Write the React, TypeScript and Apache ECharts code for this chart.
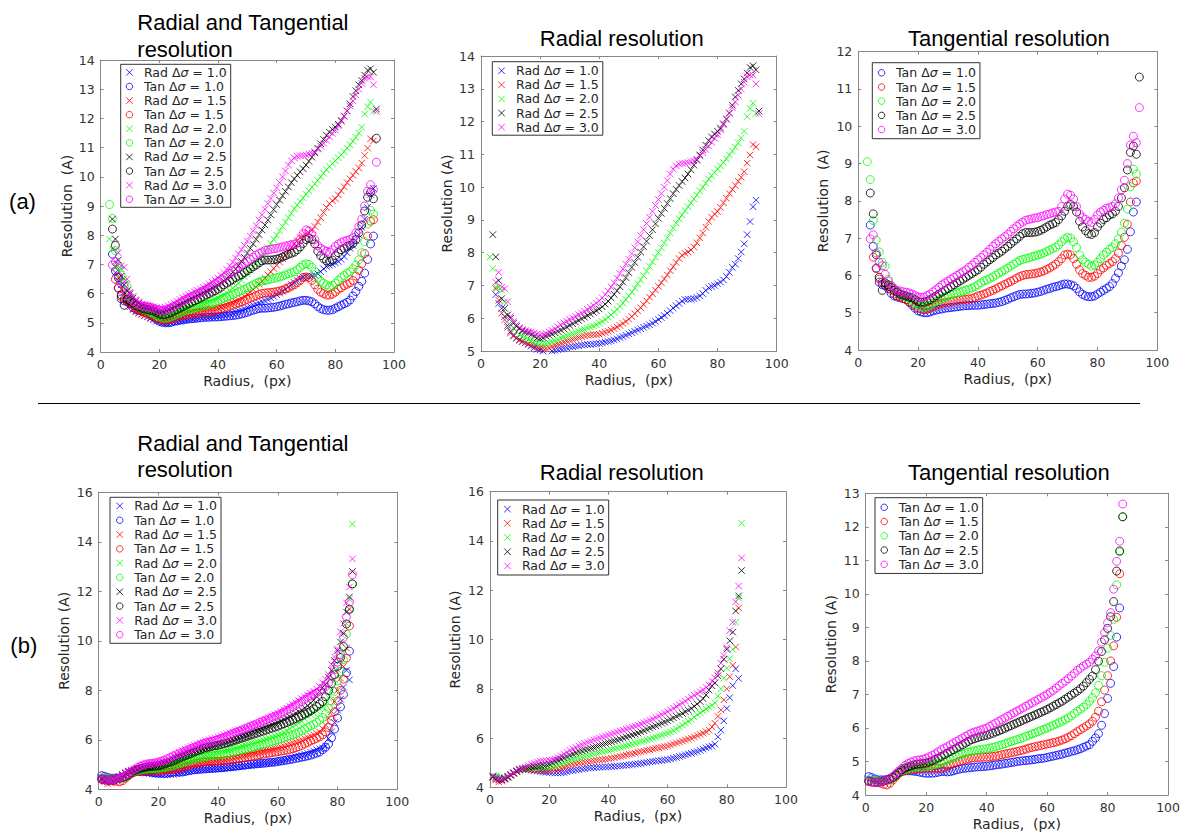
import React, { useEffect, useRef } from 'react';
import * as echarts from 'echarts';

// ---------- radii (px) ----------
const RADIUS_A = [
  3, 4, 5, 6, 7, 8, 9, 10, 11, 12, 13, 14, 15, 16, 17, 18, 19, 20, 21, 22,
  23, 24, 25, 26, 27, 28, 29, 30, 31, 32, 33, 34, 35, 36, 37, 38, 39, 40, 41, 42,
  43, 44, 45, 46, 47, 48, 49, 50, 51, 52, 53, 54, 55, 56, 57, 58, 59, 60, 61, 62,
  63, 64, 65, 66, 67, 68, 69, 70, 71, 72, 73, 74, 75, 76, 77, 78, 79, 80, 81, 82,
  83, 84, 85, 86, 87, 88, 89, 90, 91, 92, 93, 94,
];
const RADIUS_B = [
  1, 2, 3, 4, 5, 6, 7, 8, 9, 10, 11, 12, 13, 14, 15, 16, 17, 18, 19, 20,
  21, 22, 23, 24, 25, 26, 27, 28, 29, 30, 31, 32, 33, 34, 35, 36, 37, 38, 39, 40,
  41, 42, 43, 44, 45, 46, 47, 48, 49, 50, 51, 52, 53, 54, 55, 56, 57, 58, 59, 60,
  61, 62, 63, 64, 65, 66, 67, 68, 69, 70, 71, 72, 73, 74, 75, 76, 77, 78, 79, 80,
  81, 82, 83, 84, 85,
];

// ---------- (a) radial resolution (A), one value per radius in RADIUS_A ----------
const RAD_A_10 = [
  null, null, 6.72, 6.45, 6.3, 6.05, 5.78, 5.6, 5.48, 5.4,
  5.35, 5.3, 5.25, 5.2, 5.15, 5.1, 5.05, 5.03, 5.0, 4.98,
  4.98, 5.0, 5.02, 5.04, 5.06, 5.08, 5.1, 5.12, 5.13, 5.15,
  5.16, 5.18, 5.19, 5.2, 5.2, 5.21, 5.22, 5.23, 5.25, 5.27,
  5.29, 5.31, 5.34, 5.37, 5.41, 5.44, 5.48, 5.52, 5.56, 5.6,
  5.64, 5.68, 5.72, 5.76, 5.8, 5.85, 5.9, 5.96, 6.02, 6.08,
  6.15, 6.23, 6.31, 6.38, 6.45, 6.52, 6.57, 6.58, 6.58, 6.6,
  6.63, 6.68, 6.75, 6.85, 6.93, 6.97, 7.0, 7.05, 7.1, 7.17,
  7.27, 7.4, 7.55, 7.65, 7.82, 8.02, 8.27, 8.55, 8.95, 9.4,
  9.6, null,
];
const RAD_A_15 = [
  null, null, 6.9, 6.55, 6.15, 5.95, 5.72, 5.55, 5.45, 5.38,
  5.32, 5.28, 5.25, 5.22, 5.18, 5.15, 5.12, 5.1, 5.08, 5.08,
  5.1, 5.14, 5.18, 5.21, 5.24, 5.27, 5.3, 5.32, 5.35, 5.38,
  5.41, 5.44, 5.46, 5.48, 5.49, 5.5, 5.5, 5.51, 5.54, 5.57,
  5.6, 5.64, 5.68, 5.73, 5.78, 5.84, 5.9, 5.97, 6.05, 6.14,
  6.23, 6.32, 6.42, 6.53, 6.64, 6.75, 6.86, 6.97, 7.08, 7.2,
  7.32, 7.45, 7.57, 7.7, 7.82, 7.92, 7.98, 8.02, 8.08, 8.17,
  8.3, 8.45, 8.6, 8.78, 8.95, 9.08, 9.18, 9.25, 9.38, 9.52,
  9.66, 9.8, 9.93, 10.05, 10.18, 10.3, 10.47, 10.73, 10.98, 11.3,
  11.23, null,
];
const RAD_A_20 = [
  7.87, 7.52, 6.95, 6.95, 6.85, 6.5, 6.1, 5.8, 5.7, 5.6,
  5.5, 5.45, 5.4, 5.35, 5.3, 5.27, 5.25, 5.22, 5.22, 5.23,
  5.25, 5.28, 5.32, 5.35, 5.39, 5.43, 5.47, 5.5, 5.53, 5.56,
  5.6, 5.63, 5.66, 5.7, 5.73, 5.76, 5.8, 5.85, 5.9, 5.96,
  6.03, 6.1, 6.18, 6.27, 6.36, 6.46, 6.57, 6.68, 6.8, 6.92,
  7.05, 7.17, 7.3, 7.44, 7.58, 7.72, 7.86, 8.0, 8.15, 8.3,
  8.45, 8.6, 8.75, 8.9, 9.03, 9.15, 9.28, 9.4, 9.52, 9.64,
  9.76, 9.88, 10.0, 10.12, 10.24, 10.35, 10.45, 10.55, 10.65, 10.75,
  10.86, 10.98, 11.1, 11.22, 11.35, 11.5, 11.7, 12.15, 12.4, 12.56,
  12.25, null,
];
const RAD_A_25 = [
  null, 8.55, 7.87, 7.15, 6.6, 6.3, 6.1, 6.0, 5.85, 5.75,
  5.68, 5.62, 5.58, 5.55, 5.5, 5.45, 5.4, 5.38, 5.4, 5.45,
  5.48, 5.52, 5.56, 5.6, 5.64, 5.68, 5.73, 5.78, 5.83, 5.88,
  5.93, 5.98, 6.03, 6.08, 6.13, 6.18, 6.23, 6.28, 6.35, 6.43,
  6.52, 6.62, 6.73, 6.84, 6.96, 7.1, 7.24, 7.39, 7.55, 7.7,
  7.86, 8.02, 8.18, 8.35, 8.52, 8.7, 8.88, 9.05, 9.2, 9.35,
  9.5, 9.65, 9.8, 9.93, 10.05, 10.17, 10.28, 10.4, 10.53, 10.67,
  10.82, 10.98, 11.13, 11.28, 11.42, 11.53, 11.62, 11.7, 11.8, 11.93,
  12.08, 12.26, 12.5, 12.75, 12.95, 13.15, 13.3, 13.48, 13.65, 13.7,
  13.58, 12.32,
];
const RAD_A_30 = [
  null, null, 7.1, 7.4, 6.95, 6.9, 6.5, 6.05, 5.9, 5.8,
  5.72, 5.65, 5.62, 5.6, 5.58, 5.55, 5.52, 5.5, 5.5, 5.53,
  5.58, 5.63, 5.68, 5.74, 5.8, 5.86, 5.91, 5.96, 6.01, 6.06,
  6.11, 6.16, 6.21, 6.27, 6.33, 6.39, 6.46, 6.53, 6.62, 6.72,
  6.83, 6.95, 7.08, 7.22, 7.36, 7.5, 7.65, 7.8, 7.97, 8.15,
  8.33, 8.52, 8.7, 8.89, 9.08, 9.26, 9.44, 9.62, 9.8, 10.0,
  10.2, 10.4, 10.55, 10.65, 10.7, 10.72, 10.73, 10.75, 10.78, 10.8,
  10.85, 10.95, 11.05, 11.15, 11.25, 11.37, 11.49, 11.6, 11.75, 11.9,
  12.07, 12.25, 12.42, 12.6, 12.8, 13.0, 13.2, 13.37, 13.42, 13.42,
  13.15, 12.24,
];

// ---------- (a) tangential resolution (A) ----------
const TAN_A_10 = [
  null, 7.35, 6.78, 6.2, 5.82, 5.75, 5.72, 5.65, 5.52, 5.45,
  5.42, 5.4, 5.38, 5.35, 5.28, 5.2, 5.12, 5.05, 5.02, 5.0,
  5.0, 5.02, 5.05, 5.07, 5.09, 5.1, 5.12, 5.13, 5.14, 5.15,
  5.16, 5.17, 5.18, 5.19, 5.19, 5.2, 5.2, 5.2, 5.21, 5.22,
  5.23, 5.24, 5.25, 5.26, 5.28, 5.3, 5.33, 5.36, 5.4, 5.43,
  5.46, 5.49, 5.5, 5.5, 5.51, 5.52, 5.53, 5.55, 5.57, 5.6,
  5.63, 5.65, 5.68, 5.7, 5.72, 5.75, 5.77, 5.77, 5.75, 5.72,
  5.65, 5.56, 5.49, 5.45, 5.43, 5.43, 5.45, 5.5, 5.55, 5.6,
  5.65, 5.7, 5.78, 5.92, 6.07, 6.25, 6.42, 6.7, 7.17, 7.7,
  7.97, null,
];
const TAN_A_15 = [
  null, null, 6.49, 6.18, 5.9, 5.82, 5.75, 5.7, 5.6, 5.5,
  5.45, 5.42, 5.38, 5.35, 5.3, 5.25, 5.18, 5.12, 5.1, 5.08,
  5.1, 5.12, 5.16, 5.2, 5.23, 5.25, 5.27, 5.28, 5.3, 5.32,
  5.33, 5.34, 5.35, 5.36, 5.37, 5.38, 5.41, 5.45, 5.47, 5.5,
  5.53, 5.57, 5.6, 5.64, 5.68, 5.72, 5.76, 5.8, 5.84, 5.88,
  5.93, 5.97, 6.0, 6.02, 6.03, 6.04, 6.05, 6.07, 6.09, 6.12,
  6.16, 6.2, 6.25, 6.3, 6.37, 6.45, 6.55, 6.57, 6.55, 6.45,
  6.3, 6.15, 6.05, 6.0, 5.95, 5.95, 5.98, 6.05, 6.15, 6.2,
  6.27, 6.32, 6.37, 6.45, 6.6, 6.8, 7.02, 7.37, 7.97, 8.48,
  8.53, null,
];
const TAN_A_20 = [
  9.05, 8.57, 7.47, 6.95, 6.63, 6.35, 6.25, 5.9, 5.72, 5.62,
  5.55, 5.5, 5.45, 5.42, 5.38, 5.32, 5.25, 5.2, 5.16, 5.15,
  5.17, 5.2, 5.25, 5.3, 5.34, 5.38, 5.42, 5.45, 5.48, 5.5,
  5.53, 5.55, 5.58, 5.61, 5.63, 5.66, 5.7, 5.75, 5.8, 5.85,
  5.88, 5.92, 5.96, 6.01, 6.06, 6.1, 6.15, 6.2, 6.25, 6.3,
  6.35, 6.4, 6.43, 6.45, 6.47, 6.5, 6.52, 6.55, 6.57, 6.6,
  6.64, 6.68, 6.72, 6.75, 6.82, 6.9, 6.98, 7.02, 7.0, 6.9,
  6.75, 6.55, 6.42, 6.35, 6.3, 6.25, 6.28, 6.35, 6.45, 6.55,
  6.62, 6.7, 6.75, 6.85, 6.98, 7.16, 7.4, 7.78, 8.38, 8.85,
  8.72, null,
];
const TAN_A_25 = [
  null, 8.21, 7.65, 6.55, 5.95, 5.6, 5.8, 5.75, 5.68, 5.6,
  5.55, 5.5, 5.47, 5.45, 5.42, 5.4, 5.35, 5.3, 5.28, 5.28,
  5.31, 5.35, 5.4, 5.45, 5.5, 5.55, 5.6, 5.65, 5.7, 5.75,
  5.8, 5.85, 5.9, 5.95, 6.0, 6.05, 6.1, 6.15, 6.22, 6.3,
  6.36, 6.42, 6.48, 6.55, 6.6, 6.65, 6.72, 6.78, 6.85, 6.92,
  6.98, 7.05, 7.12, 7.15, 7.15, 7.15, 7.16, 7.18, 7.21, 7.25,
  7.3, 7.35, 7.38, 7.42, 7.5, 7.6, 7.72, 7.85, 7.9, 7.85,
  7.7, 7.45, 7.3, 7.2, 7.12, 7.1, 7.15, 7.3, 7.4, 7.5,
  7.55, 7.62, 7.65, 7.72, 7.85, 8.08, 8.35, 8.83, 9.3, 9.47,
  9.25, 11.32,
];
const TAN_A_30 = [
  null, 6.98, 7.09, 6.6, 6.35, 6.26, 6.03, 5.85, 5.73, 5.65,
  5.6, 5.58, 5.56, 5.55, 5.53, 5.5, 5.46, 5.42, 5.41, 5.42,
  5.46, 5.5, 5.56, 5.62, 5.68, 5.75, 5.8, 5.85, 5.9, 5.95,
  6.0, 6.05, 6.1, 6.15, 6.22, 6.28, 6.35, 6.42, 6.48, 6.55,
  6.62, 6.7, 6.78, 6.85, 6.92, 6.98, 7.04, 7.1, 7.18, 7.25,
  7.32, 7.38, 7.43, 7.48, 7.5, 7.52, 7.54, 7.55, 7.58, 7.6,
  7.63, 7.65, 7.68, 7.7, 7.72, 7.85, 8.05, 8.18, 8.15, 8.05,
  7.85, 7.65, 7.55, 7.5, 7.45, 7.42, 7.5, 7.62, 7.7, 7.75,
  7.8, 7.82, 7.85, 7.92, 8.08, 8.3, 8.55, 9.0, 9.5, 9.73,
  9.56, 10.5,
];

// ---------- (b) radial resolution (A), one value per radius in RADIUS_B ----------
const RAD_B_10 = [
  4.45, 4.42, 4.35, 4.3, 4.35, 4.42, 4.5, 4.58, 4.65, 4.7,
  4.72, 4.72, 4.71, 4.7, 4.68, 4.66, 4.64, 4.62, 4.61, 4.6,
  4.59, 4.58, 4.58, 4.59, 4.6, 4.63, 4.66, 4.68, 4.7, 4.72,
  4.74, 4.76, 4.78, 4.79, 4.8, 4.81, 4.82, 4.82, 4.83, 4.83,
  4.84, 4.85, 4.86, 4.87, 4.88, 4.9, 4.91, 4.92, 4.94, 4.95,
  4.97, 4.99, 5.01, 5.03, 5.05, 5.06, 5.08, 5.09, 5.11, 5.12,
  5.15, 5.18, 5.21, 5.25, 5.28, 5.32, 5.35, 5.38, 5.42, 5.45,
  5.5, 5.55, 5.6, 5.64, 5.67, 5.75, 6.05, 6.32, 6.7, 7.2,
  7.64, 8.13, 8.81, 8.42, null,
];
const RAD_B_15 = [
  4.4, 4.3, 4.22, 4.25, 4.32, 4.4, 4.48, 4.56, 4.64, 4.7,
  4.72, 4.72, 4.72, 4.71, 4.7, 4.69, 4.68, 4.68, 4.68, 4.68,
  4.7, 4.72, 4.75, 4.78, 4.82, 4.86, 4.89, 4.92, 4.95, 4.98,
  5.0, 5.02, 5.04, 5.06, 5.08, 5.1, 5.11, 5.12, 5.14, 5.15,
  5.18, 5.2, 5.23, 5.25, 5.28, 5.31, 5.34, 5.36, 5.39, 5.42,
  5.45, 5.47, 5.5, 5.52, 5.55, 5.58, 5.6, 5.63, 5.65, 5.68,
  5.72, 5.76, 5.8, 5.84, 5.88, 5.92, 5.96, 6.0, 6.05, 6.1,
  6.15, 6.2, 6.26, 6.32, 6.45, 6.6, 6.88, 7.14, 7.55, 8.0,
  8.49, 8.96, 9.7, 11.28, null,
];
const RAD_B_20 = [
  4.48, 4.45, 4.4, 4.38, 4.4, 4.45, 4.52, 4.6, 4.66, 4.72,
  4.74, 4.75, 4.76, 4.77, 4.78, 4.79, 4.8, 4.8, 4.81, 4.82,
  4.85, 4.88, 4.92, 4.96, 5.0, 5.04, 5.08, 5.12, 5.16, 5.2,
  5.23, 5.26, 5.29, 5.32, 5.35, 5.38, 5.41, 5.44, 5.47, 5.5,
  5.53, 5.56, 5.59, 5.62, 5.65, 5.68, 5.72, 5.75, 5.79, 5.82,
  5.86, 5.89, 5.93, 5.96, 6.0, 6.04, 6.08, 6.12, 6.16, 6.2,
  6.25, 6.3, 6.37, 6.45, 6.52, 6.6, 6.68, 6.75, 6.85, 6.95,
  7.02, 7.1, 7.18, 7.25, 7.32, 7.43, 7.7, 8.0, 8.43, 8.84,
  9.22, 9.6, 10.7, 11.68, 14.72,
];
const RAD_B_25 = [
  4.42, 4.35, 4.3, 4.3, 4.35, 4.42, 4.5, 4.58, 4.65, 4.72,
  4.75, 4.78, 4.8, 4.83, 4.85, 4.87, 4.88, 4.9, 4.92, 4.95,
  5.0, 5.05, 5.1, 5.15, 5.2, 5.25, 5.3, 5.35, 5.4, 5.45,
  5.48, 5.52, 5.55, 5.58, 5.62, 5.66, 5.7, 5.74, 5.78, 5.82,
  5.85, 5.89, 5.92, 5.96, 6.0, 6.04, 6.08, 6.12, 6.16, 6.2,
  6.25, 6.3, 6.35, 6.4, 6.45, 6.5, 6.55, 6.6, 6.65, 6.7,
  6.76, 6.82, 6.88, 6.94, 7.0, 7.07, 7.13, 7.2, 7.29, 7.38,
  7.48, 7.6, 7.75, 7.95, 8.12, 8.24, 8.53, 8.81, 9.2, 9.6,
  9.95, 10.3, 11.16, 11.77, 12.8,
];
const RAD_B_30 = [
  4.45, 4.4, 4.32, 4.32, 4.38, 4.45, 4.52, 4.6, 4.68, 4.74,
  4.78, 4.82, 4.88, 4.94, 4.98, 5.03, 5.05, 5.07, 5.08, 5.1,
  5.12, 5.15, 5.2, 5.28, 5.35, 5.42, 5.5, 5.56, 5.62, 5.68,
  5.73, 5.78, 5.83, 5.87, 5.92, 5.96, 6.0, 6.04, 6.08, 6.12,
  6.16, 6.2, 6.24, 6.28, 6.32, 6.36, 6.4, 6.44, 6.48, 6.52,
  6.57, 6.62, 6.67, 6.72, 6.77, 6.83, 6.89, 6.95, 7.01, 7.07,
  7.14, 7.21, 7.28, 7.35, 7.42, 7.5, 7.58, 7.66, 7.74, 7.8,
  7.88, 7.96, 8.05, 8.15, 8.3, 8.45, 8.64, 9.04, 9.35, 9.67,
  10.36, 10.7, 11.53, 12.17, 13.31,
];

// ---------- (b) tangential resolution (A) ----------
const TAN_B_10 = [
  4.55, 4.52, 4.48, 4.45, 4.45, 4.45, 4.46, 4.48, 4.52, 4.58,
  4.65, 4.7, 4.72, 4.72, 4.72, 4.71, 4.7, 4.68, 4.66, 4.65,
  4.65, 4.65, 4.66, 4.68, 4.7, 4.7, 4.69, 4.7, 4.72, 4.75,
  4.77, 4.79, 4.8, 4.81, 4.82, 4.83, 4.84, 4.84, 4.85, 4.86,
  4.87, 4.88, 4.9, 4.91, 4.92, 4.94, 4.95, 4.97, 4.98, 5.0,
  5.01, 5.02, 5.03, 5.04, 5.05, 5.06, 5.08, 5.09, 5.1, 5.12,
  5.14, 5.16, 5.18, 5.2, 5.22, 5.25, 5.27, 5.3, 5.32, 5.35,
  5.38, 5.42, 5.46, 5.5, 5.6, 5.7, 5.83, 6.08, 6.43, 6.88,
  7.33, 7.83, 8.71, 9.58, null,
];
const TAN_B_15 = [
  4.4, 4.38, 4.38, 4.38, 4.35, 4.32, 4.3, 4.35, 4.45, 4.55,
  4.65, 4.7, 4.72, 4.74, 4.75, 4.76, 4.77, 4.78, 4.79, 4.8,
  4.8, 4.8, 4.8, 4.79, 4.79, 4.82, 4.86, 4.9, 4.93, 4.96,
  5.0, 5.03, 5.06, 5.08, 5.1, 5.11, 5.12, 5.12, 5.13, 5.13,
  5.14, 5.15, 5.16, 5.18, 5.2, 5.22, 5.24, 5.26, 5.28, 5.3,
  5.32, 5.34, 5.37, 5.4, 5.42, 5.44, 5.46, 5.48, 5.5, 5.52,
  5.54, 5.56, 5.58, 5.61, 5.64, 5.68, 5.72, 5.77, 5.83, 5.89,
  5.95, 6.0, 6.06, 6.12, 6.2, 6.32, 6.5, 6.78, 7.13, 7.56,
  8.0, 8.45, 9.3, 10.6, null,
];
const TAN_B_20 = [
  4.45, 4.45, 4.44, 4.42, 4.42, 4.42, 4.43, 4.45, 4.5, 4.58,
  4.66, 4.72, 4.76, 4.79, 4.81, 4.83, 4.84, 4.84, 4.84, 4.85,
  4.87, 4.89, 4.91, 4.93, 4.96, 5.0, 5.04, 5.08, 5.12, 5.15,
  5.19, 5.22, 5.25, 5.28, 5.3, 5.32, 5.34, 5.36, 5.37, 5.38,
  5.4, 5.42, 5.44, 5.47, 5.5, 5.53, 5.56, 5.59, 5.62, 5.65,
  5.68, 5.71, 5.75, 5.78, 5.82, 5.85, 5.89, 5.93, 5.96, 6.0,
  6.04, 6.08, 6.12, 6.16, 6.2, 6.25, 6.3, 6.36, 6.43, 6.5,
  6.56, 6.62, 6.7, 6.8, 6.9, 7.05, 7.27, 7.56, 7.96, 8.38,
  8.76, 9.24, 10.27, 11.25, 12.3,
];
const TAN_B_25 = [
  4.42, 4.4, 4.38, 4.38, 4.4, 4.42, 4.45, 4.48, 4.52, 4.6,
  4.68, 4.75, 4.8, 4.84, 4.87, 4.9, 4.92, 4.93, 4.94, 4.95,
  4.98, 5.02, 5.06, 5.1, 5.15, 5.2, 5.25, 5.3, 5.35, 5.4,
  5.45, 5.5, 5.55, 5.6, 5.65, 5.68, 5.71, 5.74, 5.76, 5.78,
  5.81, 5.84, 5.88, 5.91, 5.95, 5.99, 6.03, 6.07, 6.11, 6.15,
  6.19, 6.23, 6.27, 6.31, 6.35, 6.39, 6.43, 6.47, 6.51, 6.55,
  6.6, 6.65, 6.7, 6.75, 6.8, 6.86, 6.92, 6.98, 7.04, 7.1,
  7.17, 7.25, 7.35, 7.45, 7.55, 7.74, 7.99, 8.28, 8.63, 8.97,
  9.32, 9.77, 10.68, 11.28, 12.3,
];
const TAN_B_30 = [
  4.42, 4.4, 4.38, 4.38, 4.4, 4.42, 4.45, 4.5, 4.56, 4.64,
  4.72, 4.8, 4.88, 4.94, 4.98, 5.02, 5.04, 5.05, 5.07, 5.1,
  5.14, 5.18, 5.23, 5.29, 5.35, 5.4, 5.44, 5.5, 5.55, 5.6,
  5.65, 5.7, 5.75, 5.8, 5.85, 5.88, 5.91, 5.94, 5.97, 6.0,
  6.05, 6.1, 6.15, 6.2, 6.25, 6.3, 6.35, 6.4, 6.45, 6.5,
  6.55, 6.6, 6.65, 6.7, 6.75, 6.8, 6.85, 6.9, 6.95, 7.0,
  7.06, 7.12, 7.19, 7.26, 7.33, 7.4, 7.47, 7.55, 7.63, 7.72,
  7.78, 7.85, 7.9, 7.96, 8.05, 8.15, 8.3, 8.56, 8.84, 9.14,
  9.44, 10.14, 10.97, 11.57, 12.68,
];

const SIGMAS = ['1.0', '1.5', '2.0', '2.5', '3.0'];
const COLORS = ['#0000ff', '#ff0000', '#00ff00', '#000000', '#ff00ff'];
const X_TICKS = [0, 100, 20];

const RAD_A = [RAD_A_10, RAD_A_15, RAD_A_20, RAD_A_25, RAD_A_30];
const TAN_A = [TAN_A_10, TAN_A_15, TAN_A_20, TAN_A_25, TAN_A_30];
const RAD_B = [RAD_B_10, RAD_B_15, RAD_B_20, RAD_B_25, RAD_B_30];
const TAN_B = [TAN_B_10, TAN_B_15, TAN_B_20, TAN_B_25, TAN_B_30];

const X_ICON = 'path://M0,0L10,10M10,0L0,10';
const AXIS_COLOR = '#878787';
const LABEL_COLOR = '#333333';
const SANS = 'DejaVu Sans';
const TITLE_FONT = 'Liberation Sans';
const LEGEND_FONT = 12.5;

type Panel = {
  grid: { left: number; top: number; width: number; height: number };
  y: [number, number, number];
  radii: number[];
  rad: (number | null)[][] | null;
  tan: (number | null)[][] | null;
  yName: string;
  yGap: number;
  legend: { left: number; top: number; padding: number[]; lh: number };
};

const PANELS: Panel[] = [
  {
    grid: { left: 100.7, top: 60, width: 293.3, height: 292 }, y: [4, 14, 1],
    radii: RADIUS_A, rad: RAD_A, tan: TAN_A, yName: 'Resolution  (A)', yGap: 27,
    legend: { left: 120.7, top: 64.3, padding: [1, 4, 1, 5], lh: 14.1 },
  },
  {
    grid: { left: 481, top: 56, width: 295.7, height: 295 }, y: [5, 14, 1],
    radii: RADIUS_A, rad: RAD_A, tan: null, yName: 'Resolution (A)', yGap: 27,
    legend: { left: 492.3, top: 61.7, padding: [2, 4, 1, 5.5], lh: 14.1 },
  },
  {
    grid: { left: 858.3, top: 51.7, width: 299, height: 298.3 }, y: [4, 12, 1],
    radii: RADIUS_A, rad: null, tan: TAN_A, yName: 'Resolution  (A)', yGap: 28,
    legend: { left: 872.3, top: 62.7, padding: [3, 4, 2, 5.5], lh: 14.2 },
  },
  {
    grid: { left: 98.7, top: 492.3, width: 298.5, height: 297 }, y: [4, 16, 2],
    radii: RADIUS_B, rad: RAD_B, tan: TAN_B, yName: 'Resolution (A)', yGap: 28,
    legend: { left: 110, top: 497.3, padding: [1.5, 4, 1.5, 6], lh: 14.3 },
  },
  {
    grid: { left: 490, top: 491.7, width: 296, height: 295.6 }, y: [4, 16, 2],
    radii: RADIUS_B, rad: RAD_B, tan: null, yName: 'Resolution (A)', yGap: 28,
    legend: { left: 497.7, top: 500, padding: [2, 4, 2, 6], lh: 14.2 },
  },
  {
    grid: { left: 865.7, top: 493.3, width: 302.6, height: 301.7 }, y: [4, 13, 1],
    radii: RADIUS_B, rad: null, tan: TAN_B, yName: 'Resolution (A)', yGap: 28,
    legend: { left: 875, top: 497.7, padding: [2.5, 4, 2, 5.5], lh: 14.25 },
  },
];

function toPoints(radii: number[], vals: (number | null)[]) {
  const out: number[][] = [];
  vals.forEach((v, i) => {
    if (v !== null && v !== undefined) out.push([radii[i], v]);
  });
  return out;
}

function axisCommon(show: boolean) {
  return {
    axisLine: { show: true, onZero: false, lineStyle: { color: AXIS_COLOR, width: 1 } },
    axisTick: { show: true, inside: true, length: 3, lineStyle: { color: AXIS_COLOR, width: 1 } },
    axisLabel: {
      show,
      color: LABEL_COLOR,
      fontSize: 12.5,
      fontFamily: SANS,
      margin: 6,
    },
    splitLine: { show: false },
  };
}

function buildOption() {
  const grids: any[] = [];
  const xAxes: any[] = [];
  const yAxes: any[] = [];
  const series: any[] = [];
  const legends: any[] = [];

  PANELS.forEach((p, gi) => {
    grids.push({ ...p.grid, containLabel: false });
    const xBase = { gridIndex: gi, type: 'value', min: X_TICKS[0], max: X_TICKS[1], interval: X_TICKS[2] };
    xAxes.push({
      ...xBase, position: 'bottom', ...axisCommon(true),
      name: 'Radius,  (px)', nameLocation: 'middle', nameGap: 22,
      nameTextStyle: { color: '#262626', fontSize: 14, fontFamily: SANS },
    });
    xAxes.push({ ...xBase, position: 'top', ...axisCommon(false) });
    const yBase = { gridIndex: gi, type: 'value', min: p.y[0], max: p.y[1], interval: p.y[2] };
    yAxes.push({
      ...yBase, position: 'left', ...axisCommon(true),
      name: p.yName, nameLocation: 'middle', nameGap: p.yGap,
      nameTextStyle: { color: '#262626', fontSize: 14, fontFamily: SANS },
    });
    yAxes.push({ ...yBase, position: 'right', ...axisCommon(false) });

    const legendData: any[] = [];
    SIGMAS.forEach((s, k) => {
      const kinds: [string, (number | null)[][] | null][] = [['Rad', p.rad], ['Tan', p.tan]];
      kinds.forEach(([kind, arr]) => {
        if (!arr) return;
        const name = `${kind} Δσ = ${s}`;
        const isRad = kind === 'Rad';
        const style = { color: 'rgba(0,0,0,0)', borderColor: COLORS[k], borderWidth: 1 };
        series.push({
          type: 'scatter',
          name,
          xAxisIndex: gi * 2,
          yAxisIndex: gi * 2,
          data: toPoints(p.radii, arr[k]),
          symbol: isRad ? X_ICON : 'circle',
          symbolSize: isRad ? 6.5 : 8,
          itemStyle: style,
          emphasis: { disabled: true },
          clip: true,
          silent: true,
        });
        legendData.push({ name, icon: isRad ? X_ICON : 'circle', itemStyle: style });
      });
    });

    legends.push({
      show: true,
      orient: 'vertical',
      left: p.legend.left,
      top: p.legend.top,
      padding: p.legend.padding,
      itemGap: 0,
      itemWidth: 19,
      itemHeight: 6.5,
      borderColor: '#333333',
      borderWidth: 1,
      backgroundColor: '#ffffff',
      selectedMode: false,
      data: legendData,
      formatter: (n: string) => n.replace('σ', '{s|σ}'),
      textStyle: {
        color: '#262626',
        fontSize: LEGEND_FONT,
        fontFamily: SANS,
        lineHeight: p.legend.lh,
        rich: {
          s: { fontStyle: 'italic', fontSize: LEGEND_FONT, fontFamily: SANS, color: '#262626', lineHeight: p.legend.lh },
        },
      },
    });
  });

  const txt = (text: string, x: number, y: number, size: number, align = 'left') => ({
    type: 'text',
    x,
    y,
    silent: true,
    style: {
      text,
      fontSize: size,
      fontFamily: TITLE_FONT,
      fill: '#000000',
      align,
      textAlign: align,
      verticalAlign: 'middle',
      textVerticalAlign: 'middle',
    },
  });

  const graphic = [
    txt('Radial and Tangential', 137.3, 22.9, 22),
    txt('resolution', 137.3, 49.6, 22),
    txt('Radial resolution', 621.7, 38.6, 22, 'center'),
    txt('Tangential resolution', 1008.8, 38.6, 22, 'center'),
    txt('Radial and Tangential', 137.3, 443.9, 22),
    txt('resolution', 137.3, 469.6, 22),
    txt('Radial resolution', 621.7, 472.9, 22, 'center'),
    txt('Tangential resolution', 1008.8, 472.9, 22, 'center'),
    txt('(a)', 22.5, 201.7, 22, 'center'),
    txt('(b)', 23.8, 645, 22, 'center'),
    {
      type: 'line',
      silent: true,
      shape: { x1: 38, y1: 403.5, x2: 1140, y2: 403.5 },
      style: { stroke: '#000000', lineWidth: 1 },
    },
  ];

  return {
    animation: false,
    backgroundColor: '#ffffff',
    textStyle: { fontFamily: SANS },
    grid: grids,
    xAxis: xAxes,
    yAxis: yAxes,
    legend: legends,
    series,
    graphic,
    tooltip: { show: false },
  };
}

export default function App() {
  const ref = useRef<HTMLDivElement>(null);
  useEffect(() => {
    if (!ref.current) return;
    const chart = echarts.init(ref.current, null, { renderer: 'svg' });
    chart.setOption(buildOption() as any);
    return () => chart.dispose();
  }, []);
  return (
    <div
      ref={ref}
      style={{ position: 'absolute', left: 0, top: 0, width: 1183, height: 832, background: '#ffffff' }}
    />
  );
}
